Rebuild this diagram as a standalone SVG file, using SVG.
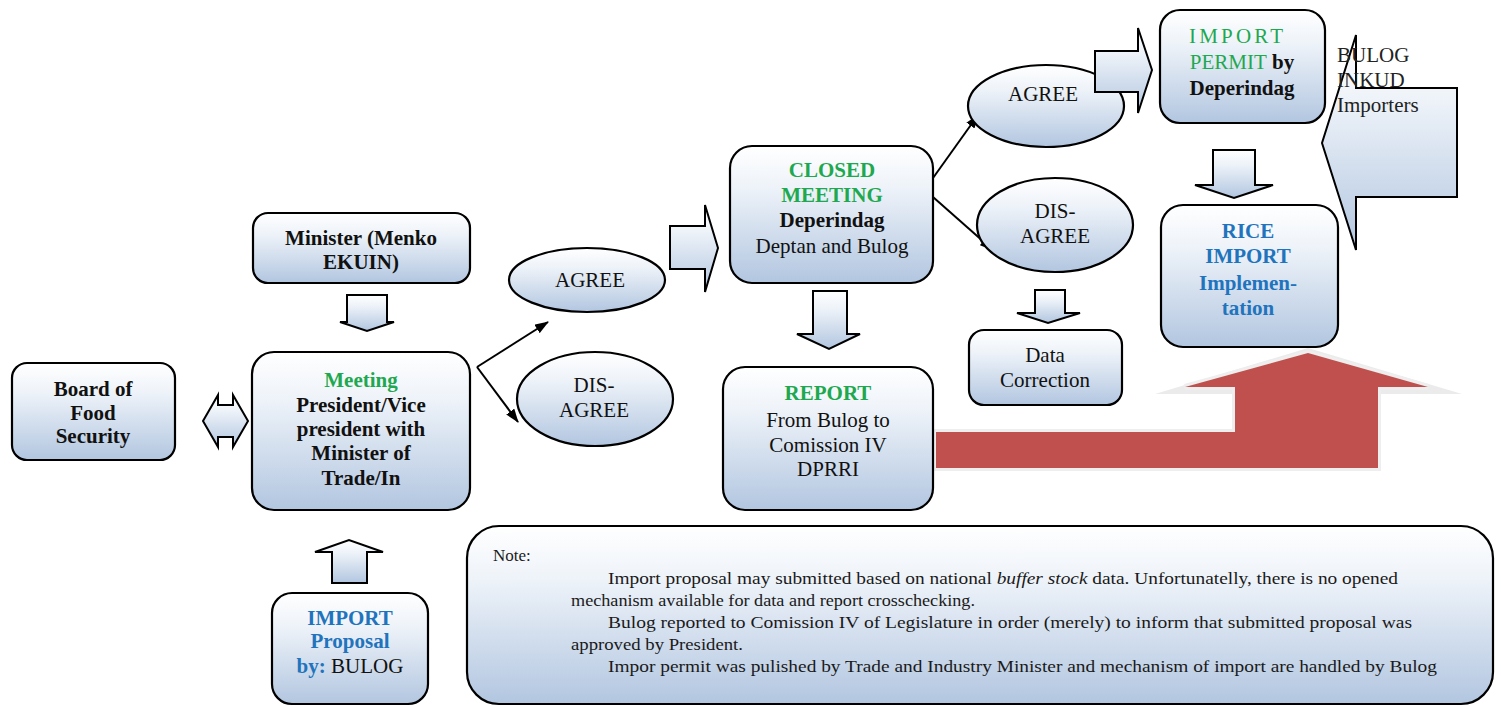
<svg xmlns="http://www.w3.org/2000/svg" width="1501" height="706" viewBox="0 0 1501 706">
<defs>
<linearGradient id="g" x1="0" y1="0" x2="0" y2="1">
<stop offset="0" stop-color="#ffffff"/>
<stop offset="0.3" stop-color="#eef3f9"/>
<stop offset="1" stop-color="#b2c6e0"/>
</linearGradient>
<marker id="ah" markerUnits="userSpaceOnUse" markerWidth="14" markerHeight="10" refX="13" refY="5" orient="auto">
<path d="M0,0 L14,5 L0,10 Z" fill="#000"/>
</marker>
<style>
.box{fill:url(#g);stroke:#000;stroke-width:2.2}
.blk{fill:url(#g);stroke:#000;stroke-width:2;stroke-linejoin:miter}
text{font-family:"Liberation Serif","Times New Roman",serif}
.t{font-size:21px;text-anchor:middle;fill:#111}
.s{text-anchor:start;fill:#222}
.b{font-weight:bold}
.gr{fill:#1EA84F}
.bl{fill:#1F74BD}
.note{font-size:17px;fill:#1a1a1a}
.ln{stroke:#000;stroke-width:2;fill:none;marker-end:url(#ah)}
</style>
</defs>
<rect width="1501" height="706" fill="#ffffff"/>

<g id="red-arrow">
<path d="M1155,394 L1308,348 L1462,394 Z" fill="#ebebeb"/>
<path d="M936,432 L1235,432 L1235,387 L1185,387 L1308,353 L1428,387 L1378,387 L1378,468 L936,468 Z" fill="#eaeaea" stroke="#eeeeee" stroke-width="6" stroke-linejoin="miter"/>
<path d="M936,432 L1235,432 L1235,387 L1185,387 L1308,353 L1428,387 L1378,387 L1378,468 L936,468 Z" fill="#C0504D"/>
</g>

<g id="connectors">
<line class="ln" x1="477" y1="367" x2="548" y2="322"/>
<line class="ln" x1="477" y1="367" x2="518" y2="422"/>
<line class="ln" x1="933" y1="178" x2="978" y2="115"/>
<line class="ln" x1="933" y1="197" x2="993" y2="250"/>
<path id="dbl-arrow" class="blk" d="M203,421 L218,395 L218,405 L233,405 L233,395 L248,421 L233,447 L233,437 L218,437 L218,447 Z"/>
<path id="arrow-minister" class="blk" d="M347,295 L387,295 L387,322 L394,322 L367,331 L340,322 L347,322 Z"/>
<path id="arrow-proposal" class="blk" d="M332,583 L367,583 L367,552 L383,552 L349,540 L315,552 L332,552 Z"/>
<path id="arrow-agree1" class="blk" d="M670,226 L705,226 L705,205 L718,248 L705,292 L705,269 L670,269 Z"/>
<path id="arrow-closed" class="blk" d="M813,291 L847,291 L847,334 L860,334 L829,349 L797,334 L813,334 Z"/>
<path id="arrow-disagree2" class="blk" d="M1035,290 L1065,290 L1065,313 L1080,313 L1048,323 L1017,313 L1035,313 Z"/>
<path id="arrow-permit" class="blk" d="M1213,150 L1255,150 L1255,185 L1273,185 L1234,198 L1195,185 L1213,185 Z"/>
</g>

<g id="board">
<rect class="box" x="12" y="363" width="163" height="97" rx="15"/>
<text class="t b" x="93" y="396">Board of</text>
<text class="t b" x="93" y="420">Food</text>
<text class="t b" x="93" y="443">Security</text>
</g>

<g id="minister">
<rect class="box" x="253" y="213" width="217" height="70" rx="15"/>
<text class="t b" x="361" y="245">Minister (Menko</text>
<text class="t b" x="361" y="269">EKUIN)</text>
</g>

<g id="meeting">
<rect class="box" x="252" y="352" width="218" height="158" rx="22"/>
<text class="t b gr" x="361" y="387">Meeting</text>
<text class="t b" x="361" y="412">President/Vice</text>
<text class="t b" x="361" y="436">president with</text>
<text class="t b" x="361" y="460">Minister of</text>
<text class="t b" x="361" y="485">Trade/In</text>
</g>

<g id="agree1">
<ellipse class="box" cx="587" cy="280" rx="78" ry="32"/>
<text class="t" x="590" y="287">AGREE</text>
</g>

<g id="disagree1">
<ellipse class="box" cx="595" cy="399" rx="78" ry="47"/>
<text class="t" x="594" y="392">DIS-</text>
<text class="t" x="594" y="417">AGREE</text>
</g>

<g id="closed-meeting">
<rect class="box" x="730" y="146" width="203" height="137" rx="22"/>
<text class="t b gr" x="832" y="177">CLOSED</text>
<text class="t b gr" x="832" y="202">MEETING</text>
<text class="t b" x="832" y="227">Deperindag</text>
<text class="t" x="832" y="253">Deptan and Bulog</text>
</g>

<g id="report">
<rect class="box" x="723" y="367" width="210" height="143" rx="22"/>
<text class="t b gr" x="828" y="400">REPORT</text>
<text class="t" x="828" y="427">From Bulog to</text>
<text class="t" x="828" y="452">Comission  IV</text>
<text class="t" x="828" y="476">DPRRI</text>
</g>

<g id="agree2">
<ellipse class="box" cx="1046" cy="106" rx="78" ry="41"/>
<text class="t" x="1043" y="101">AGREE</text>
</g>

<g id="disagree2">
<ellipse class="box" cx="1055" cy="225" rx="78" ry="47"/>
<text class="t" x="1055" y="218">DIS-</text>
<text class="t" x="1055" y="243">AGREE</text>
</g>

<g id="arrow-agree2-node">
<path class="blk" d="M1095,51 L1138,51 L1138,28 L1152,70 L1138,113 L1138,92 L1095,92 Z"/>
</g>

<g id="data-correction">
<rect class="box" x="969" y="330" width="153" height="75" rx="15"/>
<text class="t" x="1045" y="362">Data</text>
<text class="t" x="1045" y="387">Correction</text>
</g>

<g id="import-permit">
<rect class="box" x="1160" y="10" width="165" height="113" rx="20"/>
<text class="t gr" x="1236" y="43" textLength="94">IMPORT</text>
<text class="t" x="1242" y="69"><tspan class="gr">PERMIT</tspan><tspan class="b">  by</tspan></text>
<text class="t b" x="1242" y="95">Deperindag</text>
</g>

<g id="rice-import">
<rect class="box" x="1161" y="205" width="177" height="142" rx="22"/>
<text class="t b bl" x="1248" y="238">RICE</text>
<text class="t b bl" x="1248" y="263">IMPORT</text>
<text class="t b bl" x="1248" y="290">Implemen-</text>
<text class="t b bl" x="1248" y="315">tation</text>
</g>

<g id="callout">
<path class="blk" d="M1356,88 L1457,88 L1457,197 L1356,197 L1356,250 L1322,143 L1356,35 Z"/>
<text class="t s" x="1337" y="62">BULOG</text>
<text class="t s" x="1337" y="87">INKUD</text>
<text class="t s" x="1337" y="112">Importers</text>
</g>

<g id="import-proposal">
<rect class="box" x="272" y="593" width="156" height="111" rx="20"/>
<text class="t b bl" x="350" y="625">IMPORT</text>
<text class="t b bl" x="350" y="648">Proposal</text>
<text class="t" x="350" y="673"><tspan class="b bl">by:</tspan> BULOG</text>
</g>

<g id="note">
<rect class="box" x="467" y="526" width="1026" height="178" rx="32"/>
<text class="note" x="493" y="561">Note:</text>
<text class="note" x="608" y="584" textLength="790" lengthAdjust="spacingAndGlyphs">Import proposal may submitted based on national <tspan font-style="italic">buffer stock</tspan> data. Unfortunatelly, there is no opened</text>
<text class="note" x="571" y="606" textLength="404" lengthAdjust="spacingAndGlyphs">mechanism available for data and report crosschecking.</text>
<text class="note" x="608" y="628" textLength="804" lengthAdjust="spacingAndGlyphs">Bulog reported to Comission  IV of Legislature in order (merely) to inform that submitted proposal was</text>
<text class="note" x="571" y="650" textLength="172" lengthAdjust="spacingAndGlyphs">approved by President.</text>
<text class="note" x="608" y="672" textLength="829" lengthAdjust="spacingAndGlyphs">Impor permit was pulished by Trade and Industry Minister and mechanism of import are handled by Bulog</text>
</g>
</svg>
